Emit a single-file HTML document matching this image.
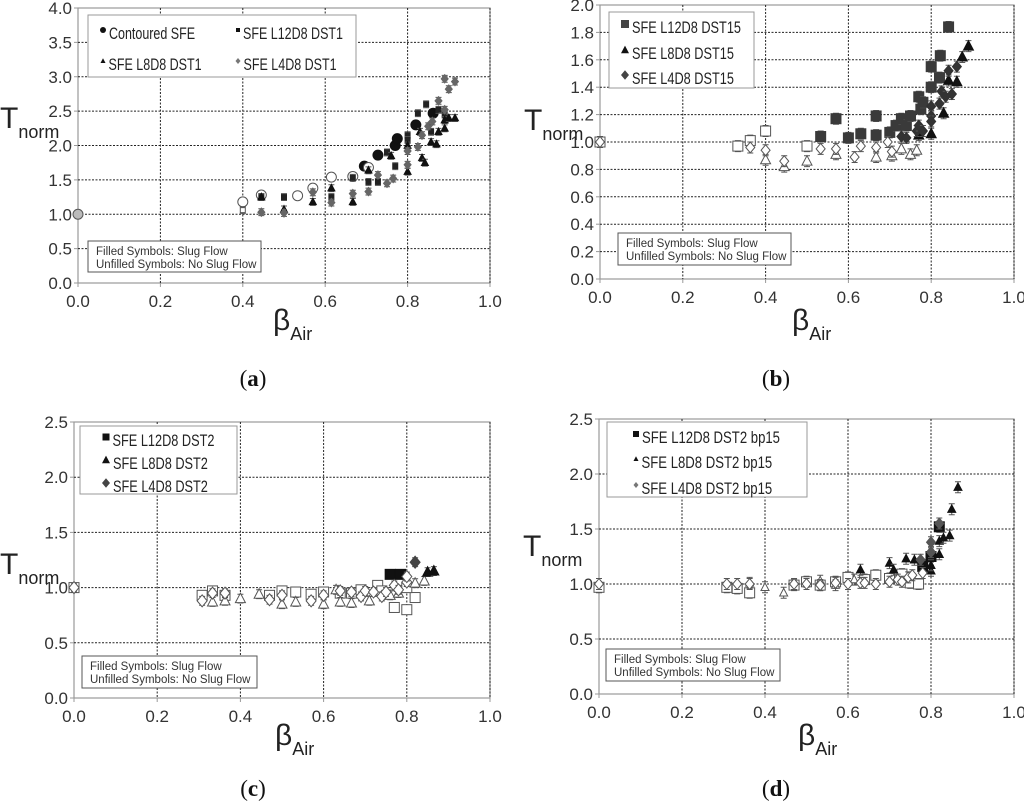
<!DOCTYPE html>
<html><head><meta charset="utf-8"><style>
html,body{margin:0;padding:0;background:#fff;}
svg{display:block;font-family:"Liberation Sans",sans-serif;}
</style></head><body>
<svg id="fig" width="1024" height="802" viewBox="0 0 1024 802" xmlns="http://www.w3.org/2000/svg"></svg>
<script>
// ---------- DATA (x = beta_air, y = T_norm, f = filled 1 / open 0 / gray 2) ----------
// Panel a
const aCircX=[0,0.40,0.445,0.533,0.57,0.615,0.667,0.695,0.705,0.728,0.77,0.775,0.82,0.862];
const aCircY=[1.0,1.18,1.28,1.27,1.38,1.54,1.55,1.70,1.68,1.86,2.0,2.1,2.3,2.47];
const aCircF=[2,0,0,0,0,0,0,1,0,1,1,1,1,1];
const aSqX=[0.40,0.445,0.50,0.615,0.667,0.705,0.728,0.75,0.77,0.80,0.80,0.825,0.845,0.857,0.875,0.89];
const aSqY=[1.06,1.25,1.25,1.25,1.53,1.47,1.47,1.9,1.7,2.15,2.08,2.47,2.6,2.2,2.52,2.45];
const aSqF=[0,1,1,1,1,1,1,1,1,1,1,1,1,1,1,1];
const aTriX=[0.445,0.50,0.57,0.615,0.667,0.705,0.76,0.80,0.80,0.83,0.835,0.842,0.857,0.87,0.875,0.89,0.89,0.90,0.915];
const aTriY=[1.25,1.07,1.18,1.38,1.18,1.64,1.85,1.62,2.0,2.2,1.82,1.75,2.05,2.02,2.2,2.25,2.37,2.4,2.4];
const aDiaX=[0.445,0.50,0.57,0.615,0.667,0.705,0.728,0.75,0.765,0.80,0.80,0.825,0.835,0.85,0.86,0.875,0.89,0.89,0.90,0.915];
const aDiaY=[1.03,1.02,1.32,1.17,1.3,1.33,1.57,1.45,1.52,1.72,1.92,1.98,2.15,2.28,2.35,2.65,2.52,2.97,2.82,2.93];
// Panel b
const bSqX=[0,0.333,0.363,0.40,0.50,0.533,0.57,0.60,0.63,0.667,0.667,0.70,0.715,0.728,0.74,0.75,0.77,0.775,0.78,0.80,0.80,0.82,0.822,0.842];
const bSqY=[1.0,0.97,1.01,1.08,0.97,1.04,1.17,1.03,1.06,1.19,1.05,1.07,1.12,1.17,1.12,1.19,1.33,1.24,1.29,1.55,1.40,1.47,1.63,1.84];
const bSqF=[0,0,0,0,0,1,1,1,1,1,1,1,1,1,1,1,1,1,1,1,1,1,1,1];
const bTriX=[0.40,0.445,0.50,0.57,0.667,0.705,0.728,0.75,0.765,0.77,0.80,0.83,0.842,0.862,0.875,0.89];
const bTriY=[0.87,0.82,0.86,0.91,0.89,0.90,0.95,0.91,0.94,1.05,1.06,1.21,1.45,1.44,1.62,1.70];
const bTriF=[0,0,0,0,0,0,0,0,0,1,1,1,1,1,1,1];
const bDiaX=[0,0.363,0.40,0.445,0.533,0.57,0.615,0.63,0.667,0.695,0.705,0.728,0.74,0.765,0.77,0.78,0.80,0.80,0.80,0.82,0.825,0.835,0.842,0.85,0.862];
const bDiaY=[1.0,0.96,0.94,0.86,0.95,0.95,0.89,0.97,0.96,1.0,0.93,1.04,1.03,1.08,1.12,1.08,1.26,1.19,1.15,1.28,1.37,1.33,1.52,1.35,1.55];
const bDiaF=[0,0,0,0,0,0,0,0,0,0,0,1,1,1,1,1,1,1,1,1,1,1,1,1,1];
// Panel c
const cSqX=[0,0.308,0.333,0.363,0.47,0.50,0.533,0.57,0.60,0.64,0.667,0.69,0.73,0.74,0.77,0.80,0.82,0.80,0.76,0.785];
const cSqY=[1.0,0.93,0.97,0.93,0.93,0.97,0.96,0.94,0.96,0.95,0.95,0.98,1.02,0.97,0.82,0.80,0.91,1.0,1.12,1.12];
const cSqF=[0,0,0,0,0,0,0,0,0,0,0,0,0,0,0,0,0,0,1,1];
const cTriX=[0.333,0.363,0.40,0.445,0.50,0.533,0.60,0.63,0.64,0.667,0.71,0.76,0.78,0.82,0.842,0.85,0.865];
const cTriY=[0.87,0.88,0.90,0.94,0.85,0.87,0.85,0.98,0.87,0.86,0.88,0.93,0.95,1.04,1.06,1.14,1.15];
const cTriF=[0,0,0,0,0,0,0,0,0,0,0,0,0,0,0,1,1];
const cDiaX=[0,0.308,0.333,0.363,0.47,0.50,0.57,0.60,0.64,0.667,0.69,0.70,0.72,0.74,0.75,0.77,0.78,0.80,0.80,0.82];
const cDiaY=[1.0,0.88,0.95,0.95,0.89,0.93,0.88,0.93,0.97,0.96,0.92,0.97,0.96,0.92,0.96,1.02,0.98,1.05,1.10,1.23];
const cDiaF=[0,0,0,0,0,0,0,0,0,0,0,0,0,0,0,0,0,0,0,1];
// Panel d
const dSqX=[0,0.308,0.333,0.363,0.47,0.50,0.533,0.57,0.60,0.64,0.667,0.70,0.73,0.75,0.77,0.78,0.80,0.82];
const dSqY=[0.97,0.97,0.96,0.92,0.99,1.02,0.99,1.02,1.06,1.04,1.08,1.05,1.09,1.01,1.0,1.16,1.25,1.52];
const dSqF=[0,0,0,0,0,0,0,0,0,0,0,0,0,0,0,1,1,1];
const dTriX=[0.363,0.40,0.445,0.533,0.57,0.615,0.63,0.70,0.71,0.74,0.76,0.80,0.80,0.82,0.82,0.83,0.845,0.85,0.865];
const dTriY=[1.01,0.97,0.92,1.03,0.99,1.04,1.13,1.19,1.13,1.23,1.22,1.12,1.17,1.27,1.39,1.42,1.44,1.68,1.88];
const dTriF=[0,0,0,0,0,0,1,1,1,1,1,1,1,1,1,1,1,1,1];
const dDiaX=[0,0.308,0.333,0.363,0.47,0.50,0.533,0.57,0.60,0.63,0.64,0.667,0.70,0.72,0.73,0.745,0.755,0.78,0.775,0.80,0.80,0.82];
const dDiaY=[1.0,1.0,1.0,1.0,1.0,1.0,0.99,1.01,1.0,1.01,1.01,1.0,1.02,1.04,1.02,1.06,1.08,1.10,1.22,1.29,1.38,1.55];
const dDiaF=[0,0,0,0,0,0,0,0,0,0,0,0,0,0,0,0,0,0,1,1,1,1];
const xTicks=["0.0","0.2","0.4","0.6","0.8","1.0"];

// ---------- DRAWING ----------
const NS="http://www.w3.org/2000/svg";
const svg=document.getElementById('fig');
function mk(tag,attrs,parent){const e=document.createElementNS(NS,tag);for(const k in attrs)e.setAttribute(k,attrs[k]);(parent||svg).appendChild(e);return e;}
function txt(s,attrs,parent){const e=mk('text',attrs,parent);e.textContent=s;return e;}

function panel(P){
  const g=mk('g',{});
  
  
  const sx=v=>P.x0+(P.x1-P.x0)*v;
  const sy=v=>P.y0+(P.yT-P.y0)*(v/P.ymax);
  const fr=mk('rect',{x:P.x0,y:P.yT,width:P.x1-P.x0,height:P.y0-P.yT,fill:'none',stroke:'#999','stroke-width':1.2},g);
  
  
  for(let i=1;i<xTicks.length;i++){const X=sx(i*0.2);const l=mk('line',{x1:X,x2:X,y1:P.yT,y2:P.y0,stroke:'#222','stroke-width':1,'stroke-dasharray':'2,1.5'},g);}
  P.yTicks.forEach((t,i)=>{const v=parseFloat(t);const Y=sy(v);
    if(v>0&&v<P.ymax){const l=mk('line',{x1:P.x0,x2:P.x1,y1:Y,y2:Y,stroke:'#222','stroke-width':1,'stroke-dasharray':'2,1.5'},g);}
    mk('line',{x1:P.x0-4,x2:P.x0,y1:Y,y2:Y,stroke:'#999'},g);
    const tl=txt(t,{x:P.x0-6,y:Y+6,'font-size':17,fill:'#333','text-anchor':'end'},g);});
  xTicks.forEach((t,i)=>{const X=sx(i*0.2);mk('line',{x1:X,x2:X,y1:P.y0,y2:P.y0+4,stroke:'#999'},g);
    const tl=txt(t,{x:X,y:P.y0+24,'font-size':17,fill:'#333','text-anchor':'middle'},g);});
  const yt=txt('',{x:P.tx,y:P.ty,'font-size':30,fill:'#222'},g);
  yt.innerHTML='T<tspan font-size="18" dy="10">norm</tspan>';
  const xt=txt('',{x:P.bx,y:P.by,'font-size':30,fill:'#222'},g);
  xt.innerHTML='β<tspan font-size="18" dy="10">Air</tspan>';
  const lab=txt('',{x:P.lx,y:P.ly,'font-size':23,'font-family':'Liberation Serif, serif','text-anchor':'middle',fill:'#111'},g);
  lab.innerHTML='(<tspan font-weight="bold">'+P.letter+'</tspan>)';
  const nb=mk('rect',{x:P.nb[0],y:P.nb[1],width:P.nb[2],height:P.nb[3],fill:'#fff',stroke:'#555'},g);
  const n1=txt(P.note1,{x:P.nb[0]+8,y:P.nb[1]+14,'font-size':11.5,fill:'#333'},g);
  const n2=txt('Unfilled Symbols: No Slug Flow',{x:P.nb[0]+8,y:P.nb[1]+27,'font-size':11.5,fill:'#333'},g);
  P.series.forEach(s=>{
    const sg=mk('g',{},g);
    s.xs.forEach((xv,i)=>{const X=sx(xv),Y=sy(s.ys[i]);const f=s.fs?s.fs[i]:1;
      const eh=Math.abs(sy(P.err)-sy(0));
      mk('path',{d:`M${X},${Y-eh}V${Y+eh}M${X-3},${Y-eh}H${X+3}M${X-3},${Y+eh}H${X+3}`,stroke:'#555','stroke-width':1,fill:'none'},sg);
      const fill=f===1?s.col:(f===2?'#bbb':'#fff');const st=f===1?s.col:'#555';const r=s.r;
      let m;
      if(s.shape==='c')m=mk('circle',{cx:X,cy:Y,r:r,fill:fill,stroke:st,'stroke-width':1},sg);
      else if(s.shape==='s')m=mk('rect',{x:X-r,y:Y-r,width:2*r,height:2*r,fill:fill,stroke:st,'stroke-width':1},sg);
      else if(s.shape==='t')m=mk('path',{d:`M${X},${Y-r*1.1}L${X+r},${Y+r*0.8}L${X-r},${Y+r*0.8}Z`,fill:fill,stroke:st,'stroke-width':1},sg);
      else m=mk('path',{d:`M${X},${Y-r*1.2}L${X+r},${Y}L${X},${Y+r*1.2}L${X-r},${Y}Z`,fill:fill,stroke:st,'stroke-width':1},sg);
      
    });
  });
  const lb=mk('rect',{x:P.lg[0],y:P.lg[1],width:P.lg[2],height:P.lg[3],fill:'#fff',stroke:'#999'},g);
  const texts=[];
  P.legend.forEach(e=>{const lg=mk('g',{},g);
    const X=e[0],Y=e[1],sh=e[3],r=e[4],c=e[5];
    if(sh==='c')mk('circle',{cx:X,cy:Y-9,r:r,fill:c},lg);
    else if(sh==='s')mk('rect',{x:X-r,y:Y-9-r,width:2*r,height:2*r,fill:c},lg);
    else if(sh==='t')mk('path',{d:`M${X},${Y-9-r*1.1}L${X+r},${Y-9+r*0.8}L${X-r},${Y-9+r*0.8}Z`,fill:c},lg);
    else mk('path',{d:`M${X},${Y-9-r*1.2}L${X+r},${Y-9}L${X},${Y-9+r*1.2}L${X-r},${Y-9}Z`,fill:c},lg);
    texts.push(txt(e[2],{x:X+r+3,y:Y,'font-size':17,fill:'#222'},lg));});
  // condense legend text to match reference widths
  const w0=texts[P.lwIdx].getComputedTextLength();
  if(w0>0){const ratio=P.lw/w0;texts.forEach(t=>{const w=t.getComputedTextLength();t.setAttribute('textLength',(w*ratio).toFixed(1));t.setAttribute('lengthAdjust','spacingAndGlyphs');});}
}

panel({name:'panel-a',letter:'a',x0:78,x1:490,y0:283,yT:8,ymax:4,err:0.05,
  yTicks:["0.0","0.5","1.0","1.5","2.0","2.5","3.0","3.5","4.0"],
  tx:0,ty:128,bx:273,by:330,lx:253,ly:386,
  nb:[88,241,173,31],note1:'Filled Symbols: Slug Flow',
  lg:[88,15,268,62],lwIdx:1,lw:100,
  legend:[[103,39,'Contoured SFE','c',3,'#111'],[238,39,'SFE L12D8 DST1','s',2,'#111'],[103,70,'SFE L8D8 DST1','t',2.5,'#111'],[238,70,'SFE L4D8 DST1','d',2.5,'#777']],
  series:[
    {name:'series-contoured-sfe',xs:aCircX,ys:aCircY,fs:aCircF,shape:'c',r:5,col:'#111'},
    {name:'series-l12d8-dst1',xs:aSqX,ys:aSqY,fs:aSqF,shape:'s',r:2.5,col:'#222'},
    {name:'series-l8d8-dst1',xs:aTriX,ys:aTriY,shape:'t',r:3.5,col:'#111'},
    {name:'series-l4d8-dst1',xs:aDiaX,ys:aDiaY,shape:'d',r:3.5,col:'#666'}]});

panel({name:'panel-b',letter:'b',x0:600,x1:1014,y0:279,yT:5,ymax:2,err:0.04,
  yTicks:["0.0","0.2","0.4","0.6","0.8","1.0","1.2","1.4","1.6","1.8","2.0"],
  tx:524,ty:130,bx:792,by:330,lx:776,ly:386,
  nb:[618,233,173,32],note1:'Filled Symbols: Slug Flow',
  lg:[609,12,145,76],lwIdx:0,lw:109,
  legend:[[625,33,'SFE L12D8 DST15','s',4,'#444'],[625,59,'SFE L8D8 DST15','t',4,'#111'],[625,84,'SFE L4D8 DST15','d',4,'#444']],
  series:[
    {name:'series-l12d8-dst15',xs:bSqX,ys:bSqY,fs:bSqF,shape:'s',r:5,col:'#3a3a3a'},
    {name:'series-l8d8-dst15',xs:bTriX,ys:bTriY,fs:bTriF,shape:'t',r:5,col:'#111'},
    {name:'series-l4d8-dst15',xs:bDiaX,ys:bDiaY,fs:bDiaF,shape:'d',r:4.5,col:'#333'}]});

panel({name:'panel-c',letter:'c',x0:74,x1:490,y0:698,yT:422,ymax:2.5,err:0.04,
  yTicks:["0.0","0.5","1.0","1.5","2.0","2.5"],
  tx:0,ty:574,bx:275,by:745,lx:253,ly:796,
  nb:[82,656,175,32],note1:'Filled Symbols:   Slug Flow',
  lg:[80,426,157,68],lwIdx:0,lw:102,
  legend:[[106,446,'SFE L12D8 DST2','s',3.5,'#111'],[106,469,'SFE L8D8 DST2','t',4,'#111'],[106,492,'SFE L4D8 DST2','d',4,'#444']],
  series:[
    {name:'series-l12d8-dst2',xs:cSqX,ys:cSqY,fs:cSqF,shape:'s',r:5,col:'#111'},
    {name:'series-l8d8-dst2',xs:cTriX,ys:cTriY,fs:cTriF,shape:'t',r:5,col:'#111'},
    {name:'series-l4d8-dst2',xs:cDiaX,ys:cDiaY,fs:cDiaF,shape:'d',r:5,col:'#444'}]});

panel({name:'panel-d',letter:'d',x0:599,x1:1014,y0:694,yT:419,ymax:2.5,err:0.05,
  yTicks:["0.0","0.5","1.0","1.5","2.0","2.5"],
  tx:523,ty:556,bx:798,by:745,lx:776,ly:796,
  nb:[606,649,174,32],note1:'Filled Symbols: Slug Flow',
  lg:[607,422,200,75],lwIdx:0,lw:138,
  legend:[[636,443,'SFE L12D8 DST2 bp15','s',3,'#111'],[636,468,'SFE L8D8 DST2 bp15','t',2.5,'#111'],[636,494,'SFE L4D8 DST2 bp15','d',2.5,'#777']],
  series:[
    {name:'series-l12d8-dst2-bp15',xs:dSqX,ys:dSqY,fs:dSqF,shape:'s',r:5,col:'#111'},
    {name:'series-l8d8-dst2-bp15',xs:dTriX,ys:dTriY,fs:dTriF,shape:'t',r:4,col:'#111'},
    {name:'series-l4d8-dst2-bp15',xs:dDiaX,ys:dDiaY,fs:dDiaF,shape:'d',r:4.5,col:'#555'}]});
</script>
</body></html>
